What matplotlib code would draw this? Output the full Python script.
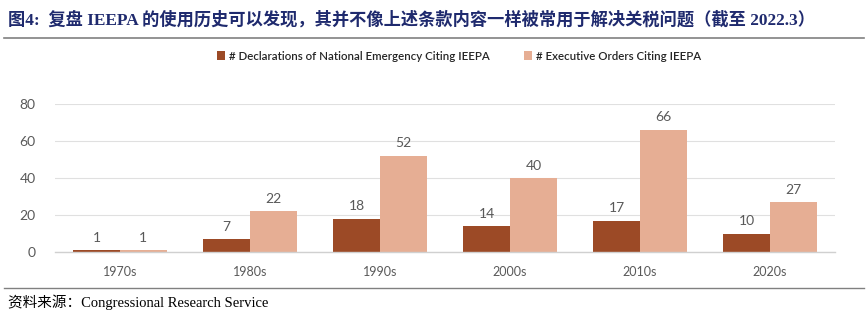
import matplotlib
matplotlib.use("Agg")
import matplotlib.pyplot as plt
import numpy as np

categories = ["1970s", "1980s", "1990s", "2000s", "2010s", "2020s"]
declarations = [1, 7, 18, 14, 17, 10]
exec_orders = [1, 22, 52, 40, 66, 27]
series_names = ["# Declarations of National Emergency Citing IEEPA",
                "# Executive Orders Citing IEEPA"]
yticks = [0, 20, 40, 60, 80]
title = "图4:  复盘 IEEPA 的使用历史可以发现，其并不像上述条款内容一样被常用于解决关税问题（截至 2022.3）"
source = "资料来源：Congressional Research Service"

dark = "#9C4A26"
light = "#E6AE94"
txtc = "#595959"
lab_font = ["Lato", "DejaVu Sans"]

fig = plt.figure(figsize=(8.68, 3.23), dpi=100)
W, H = 868, 323

def fx(px):
    return px / W

def fy(py):
    return 1 - py / H

ax = fig.add_axes([fx(55), fy(252), fx(835) - fx(55), fy(104) - fy(252)])
x = np.arange(len(categories))
bw = 0.36
b1 = ax.bar(x - bw / 2, declarations, bw, color=dark, label=series_names[0], zorder=3)
b2 = ax.bar(x + bw / 2, exec_orders, bw, color=light, label=series_names[1], zorder=3)
for bars, vals in ((b1, declarations), (b2, exec_orders)):
    for r, v in zip(bars, vals):
        ax.text(r.get_x() + r.get_width() / 2, v + 3.5, str(v), ha="center", va="bottom",
                fontsize=10, color=txtc, family=lab_font)

ax.set_xlim(-0.5, len(categories) - 0.5)
ax.set_ylim(0, 80)
ax.set_yticks(yticks)
ax.set_yticklabels([str(t) for t in yticks], family=lab_font, fontsize=10, color=txtc)
ax.set_xticks(x)
ax.set_xticklabels(categories, family=lab_font, fontsize=9, color=txtc)
ax.tick_params(axis="both", length=0)
ax.tick_params(axis="y", pad=14)
ax.tick_params(axis="x", pad=10)
ax.grid(axis="y", color="#E0E0E0", linewidth=0.8, zorder=0)
ax.set_axisbelow(True)
for s in ["top", "right", "left"]:
    ax.spines[s].set_visible(False)
ax.spines["bottom"].set_color("#D0D0D0")
ax.spines["bottom"].set_linewidth(1.0)
ax.spines["bottom"].set_zorder(4)

leg = fig.legend(handles=[b1, b2], loc="center", bbox_to_anchor=(fx(459), fy(56)), ncol=2,
                 frameon=False, handlelength=0.7, handleheight=0.7,
                 handletextpad=0.35, columnspacing=3.0,
                 prop={"family": lab_font, "size": 8.3, "weight": "semibold"})
for t in leg.get_texts():
    t.set_color("#262626")

fig.text(fx(8), fy(20), title, fontsize=12.4, fontweight="bold", color="#1F2A6E",
         family=["Liberation Serif", "Noto Sans CJK SC"], va="center", ha="left")
fig.add_artist(plt.Line2D([fx(4), fx(864)], [fy(38), fy(38)], color="#808080", linewidth=1.2))
fig.add_artist(plt.Line2D([fx(4), fx(864)], [fy(288), fy(288)], color="#808080", linewidth=1.0))
fig.text(fx(8), fy(302), source, fontsize=10.5, color="black",
         family=["Liberation Serif", "Noto Sans CJK SC"], va="center", ha="left")

fig.savefig("out.png", dpi=100)
